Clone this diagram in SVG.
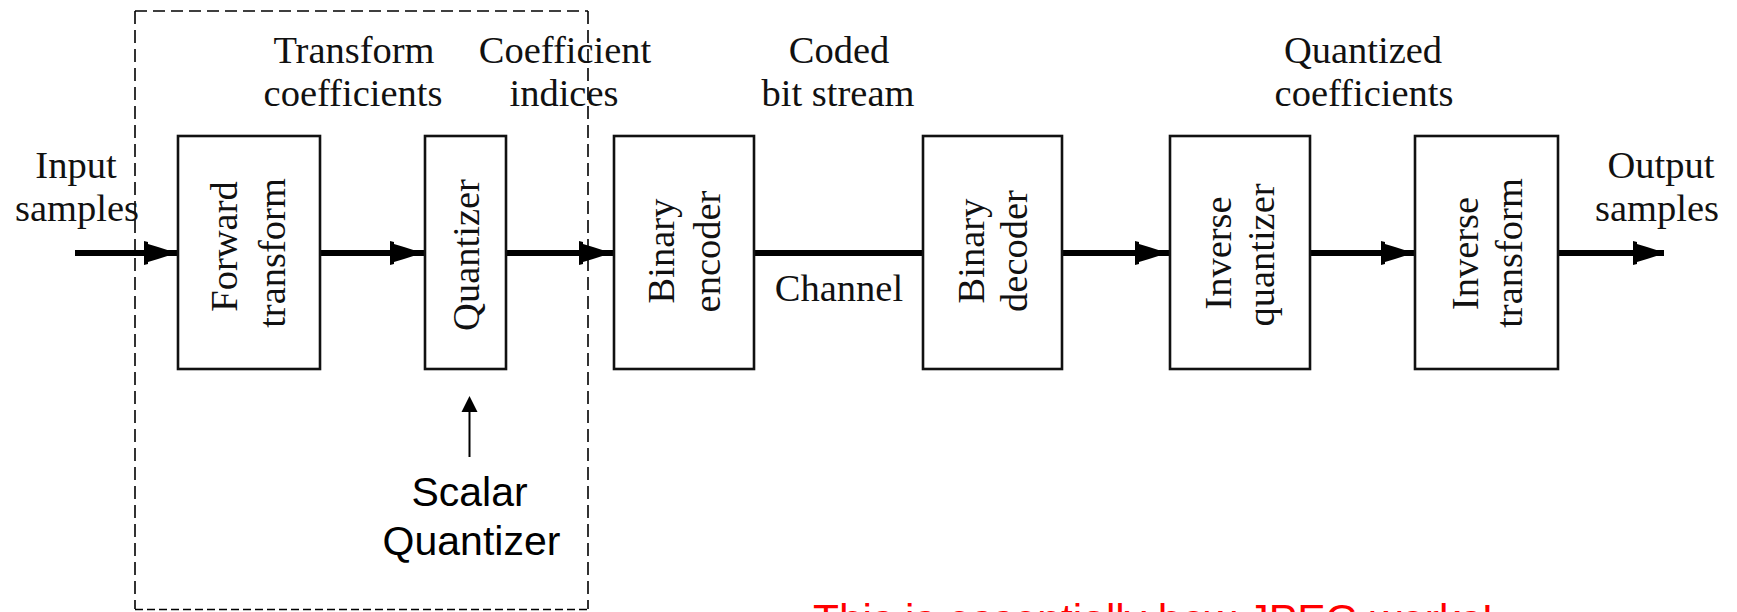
<svg xmlns="http://www.w3.org/2000/svg" xmlns:xlink="http://www.w3.org/1999/xlink" width="1737" height="612" viewBox="0 0 1737 612">
  <style>
    .box { fill: #fff; stroke: #111; stroke-width: 2.6; }
    .lbl { font-family: "Liberation Serif", "Times New Roman", serif; font-size: 38.5px; fill: #111; text-anchor: middle; }
    .flow { stroke: #000; stroke-width: 6; fill: none; }
    .dash { stroke: #000; stroke-width: 1.6; fill: none; }
    .sans { font-family: "Liberation Sans", Arial, sans-serif; fill: #000; text-anchor: middle; }
  </style>
  <defs>
    <path id="ah" d="M-26,-12 L-22,-11 L-22,-9 L-12,-6 L2,-1.5 L2,1.5 L-12,6 L-22,9 L-22,11 L-26,12 Z" fill="#000"/>
    <marker id="thin" markerWidth="8" markerHeight="8" refX="0" refY="0" viewBox="-8 -8 16 16" orient="auto" markerUnits="userSpaceOnUse">
      <path d="M8,0 L-8,-8 L-8,8 Z" fill="#000"/>
    </marker>
  </defs>
  <rect width="1737" height="612" fill="#fff"/>

  <!-- dashed region -->
  <g id="scalar-region">
    <line class="dash" x1="135" y1="11" x2="588" y2="11" stroke-dasharray="12 6"/>
    <line class="dash" x1="135" y1="11" x2="135" y2="609" stroke-dasharray="13 6"/>
    <line class="dash" x1="588" y1="11" x2="588" y2="609" stroke-dasharray="13 6"/>
    <line class="dash" x1="135" y1="609.5" x2="588" y2="609.5" stroke-dasharray="8 4"/>
  </g>

  <!-- connectors -->
  <g id="connectors">
    <line class="flow" x1="75" y1="253" x2="178" y2="253"/>
    <use xlink:href="#ah" href="#ah" x="170" y="253"/>
    <line class="flow" x1="320" y1="253" x2="425" y2="253"/>
    <use xlink:href="#ah" href="#ah" x="416" y="253"/>
    <line class="flow" x1="506" y1="253" x2="614" y2="253"/>
    <use xlink:href="#ah" href="#ah" x="605" y="253"/>
    <line class="flow" x1="754" y1="253" x2="923" y2="253"/>
    <line class="flow" x1="1062" y1="253" x2="1170" y2="253"/>
    <use xlink:href="#ah" href="#ah" x="1161" y="253"/>
    <line class="flow" x1="1310" y1="253" x2="1415" y2="253"/>
    <use xlink:href="#ah" href="#ah" x="1407" y="253"/>
    <line class="flow" x1="1558" y1="253" x2="1664" y2="253"/>
    <use xlink:href="#ah" href="#ah" x="1659" y="253"/>
    <line x1="469.5" y1="457" x2="469.5" y2="410" stroke="#000" stroke-width="2"/>
    <path d="M469.5,396 L461.5,412 L477.5,412 Z" fill="#000"/>
  </g>

  <!-- edge labels -->
  <g id="edge-labels">
    <text class="lbl" x="76" y="178">Input</text>
    <text class="lbl" x="77" y="221">samples</text>
    <text class="lbl" x="354" y="63">Transform</text>
    <text class="lbl" x="353" y="106">coefficients</text>
    <text class="lbl" x="565" y="63">Coefficient</text>
    <text class="lbl" x="564" y="106">indices</text>
    <text class="lbl" x="839" y="63">Coded</text>
    <text class="lbl" x="838" y="106">bit stream</text>
    <text class="lbl" x="839" y="301">Channel</text>
    <text class="lbl" x="1363" y="63">Quantized</text>
    <text class="lbl" x="1364" y="106">coefficients</text>
    <text class="lbl" x="1661" y="178">Output</text>
    <text class="lbl" x="1657" y="221">samples</text>
  </g>

  <g id="forward-transform">
    <rect class="box" x="178" y="136" width="142" height="233"/>
    <text class="lbl" transform="translate(237,246.5) rotate(-90)">Forward</text>
    <text class="lbl" transform="translate(285,253) rotate(-90)">transform</text>
  </g>
  <g id="quantizer">
    <rect class="box" x="425" y="136" width="81" height="233"/>
    <text class="lbl" transform="translate(478.5,255) rotate(-90)">Quantizer</text>
  </g>
  <g id="binary-encoder">
    <rect class="box" x="614" y="136" width="140" height="233"/>
    <text class="lbl" transform="translate(674,251) rotate(-90)">Binary</text>
    <text class="lbl" transform="translate(720,251.5) rotate(-90)">encoder</text>
  </g>
  <g id="binary-decoder">
    <rect class="box" x="923" y="136" width="139" height="233"/>
    <text class="lbl" transform="translate(983.5,251) rotate(-90)">Binary</text>
    <text class="lbl" transform="translate(1027,251) rotate(-90)">decoder</text>
  </g>
  <g id="inverse-quantizer">
    <rect class="box" x="1170" y="136" width="140" height="233"/>
    <text class="lbl" transform="translate(1231,253) rotate(-90)">Inverse</text>
    <text class="lbl" transform="translate(1274,255) rotate(-90)">quantizer</text>
  </g>
  <g id="inverse-transform">
    <rect class="box" x="1415" y="136" width="143" height="233"/>
    <text class="lbl" transform="translate(1477.5,253.5) rotate(-90)">Inverse</text>
    <text class="lbl" transform="translate(1522,253) rotate(-90)">transform</text>
  </g>

  <g id="scalar-quantizer-note">
    <text class="sans" x="469.5" y="506" font-size="41">Scalar</text>
    <text class="sans" x="471.5" y="555" font-size="41">Quantizer</text>
  </g>

  <text x="813" y="634" font-family="'Liberation Sans', Arial, sans-serif" font-size="42.5" fill="#ff0000">This is essentially how JPEG works!</text>
</svg>
